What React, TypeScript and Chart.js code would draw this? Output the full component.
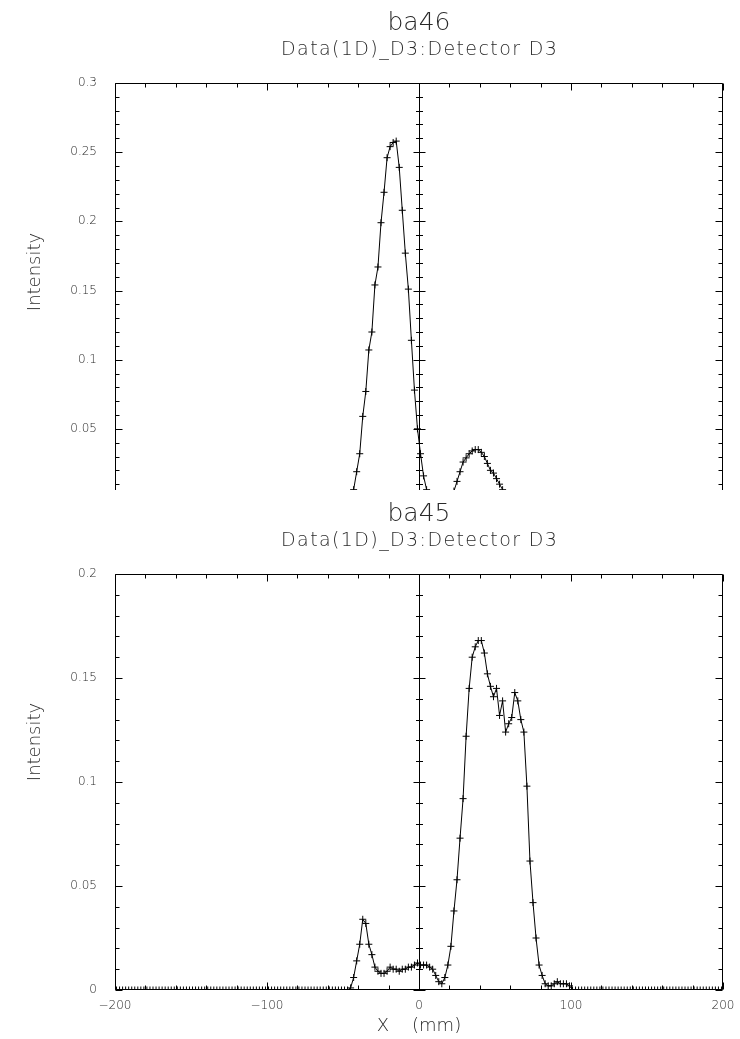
import { useEffect, useRef } from 'react';
import { Chart, registerables } from 'chart.js';

Chart.register(...registerables);

// ---------- data ----------
const xPositions = [
  -199, -197, -195, -193, -191, -189, -187, -185, -183, -181, -179, -177, -175, -173, -171, -169, -167, -165, -163, -161,
  -159, -157, -155, -153, -151, -149, -147, -145, -143, -141, -139, -137, -135, -133, -131, -129, -127, -125, -123, -121,
  -119, -117, -115, -113, -111, -109, -107, -105, -103, -101, -99, -97, -95, -93, -91, -89, -87, -85, -83, -81,
  -79, -77, -75, -73, -71, -69, -67, -65, -63, -61, -59, -57, -55, -53, -51, -49, -47, -45, -43, -41,
  -39, -37, -35, -33, -31, -29, -27, -25, -23, -21, -19, -17, -15, -13, -11, -9, -7, -5, -3, -1,
  1, 3, 5, 7, 9, 11, 13, 15, 17, 19, 21, 23, 25, 27, 29, 31, 33, 35, 37, 39,
  41, 43, 45, 47, 49, 51, 53, 55, 57, 59, 61, 63, 65, 67, 69, 71, 73, 75, 77, 79,
  81, 83, 85, 87, 89, 91, 93, 95, 97, 99, 101, 103, 105, 107, 109, 111, 113, 115, 117, 119,
  121, 123, 125, 127, 129, 131, 133, 135, 137, 139, 141, 143, 145, 147, 149, 151, 153, 155, 157, 159,
  161, 163, 165, 167, 169, 171, 173, 175, 177, 179, 181, 183, 185, 187, 189, 191, 193, 195, 197, 199,
];

// ba46 (upper panel)
const ba46Intensity = [
  0, 0, 0, 0, 0, 0, 0, 0, 0, 0, 0, 0, 0, 0, 0, 0, 0, 0, 0, 0,
  0, 0, 0, 0, 0, 0, 0, 0, 0, 0, 0, 0, 0, 0, 0, 0, 0, 0, 0, 0,
  0, 0, 0, 0, 0, 0, 0, 0, 0, 0, 0, 0, 0, 0, 0, 0, 0, 0, 0, 0,
  0, 0, 0, 0, 0, 0, 0, 0, 0, 0, 0, 0, 0, 0, 0, 0, 0, 0.001, 0.006, 0.019,
  0.032, 0.059, 0.077, 0.107, 0.12, 0.154, 0.167, 0.199, 0.221, 0.246, 0.254, 0.257, 0.258, 0.239, 0.208, 0.177, 0.151, 0.114, 0.078, 0.05,
  0.032, 0.016, 0.006, 0.002, 0.001, 0.001, 0.001, 0.001, 0.002, 0.002, 0.003, 0.005, 0.012, 0.019, 0.026, 0.029, 0.032, 0.034, 0.035, 0.035,
  0.033, 0.03, 0.025, 0.02, 0.018, 0.014, 0.01, 0.006, 0.003, 0.001, 0, 0, 0, 0, 0, 0, 0, 0, 0, 0,
  0, 0, 0, 0, 0, 0, 0, 0, 0, 0, 0, 0, 0, 0, 0, 0, 0, 0, 0, 0,
  0, 0, 0, 0, 0, 0, 0, 0, 0, 0, 0, 0, 0, 0, 0, 0, 0, 0, 0, 0,
  0, 0, 0, 0, 0, 0, 0, 0, 0, 0, 0, 0, 0, 0, 0, 0, 0, 0, 0, 0,
];

// ba45 (lower panel)
const ba45Intensity = [
  0, 0, 0, 0, 0, 0, 0, 0, 0, 0, 0, 0, 0, 0, 0, 0, 0, 0, 0, 0,
  0, 0, 0, 0, 0, 0, 0, 0, 0, 0, 0, 0, 0, 0, 0, 0, 0, 0, 0, 0,
  0, 0, 0, 0, 0, 0, 0, 0, 0, 0, 0, 0, 0, 0, 0, 0, 0, 0, 0, 0,
  0, 0, 0, 0, 0, 0, 0, 0, 0, 0, 0, 0, 0, 0, 0, 0, 0, 0.001, 0.006, 0.014,
  0.022, 0.034, 0.032, 0.022, 0.017, 0.011, 0.009, 0.008, 0.008, 0.009, 0.011, 0.01, 0.01, 0.009, 0.01, 0.01, 0.011, 0.011, 0.012, 0.013,
  0.012, 0.012, 0.012, 0.011, 0.01, 0.007, 0.004, 0.003, 0.006, 0.012, 0.021, 0.038, 0.053, 0.073, 0.092, 0.122, 0.145, 0.16, 0.165, 0.168,
  0.168, 0.162, 0.152, 0.146, 0.141, 0.145, 0.132, 0.139, 0.124, 0.128, 0.131, 0.143, 0.139, 0.13, 0.124, 0.098, 0.062, 0.042, 0.025, 0.012,
  0.007, 0.003, 0.002, 0.002, 0.003, 0.004, 0.003, 0.003, 0.003, 0.002, 0, 0, 0, 0, 0, 0, 0, 0, 0, 0,
  0, 0, 0, 0, 0, 0, 0, 0, 0, 0, 0, 0, 0, 0, 0, 0, 0, 0, 0, 0,
  0, 0, 0, 0, 0, 0, 0, 0, 0, 0, 0, 0, 0, 0, 0, 0, 0, 0, 0, 0,
];

const subtitleText = 'Data(1D)_D3:Detector D3';
const yAxisLabel = 'Intensity';
const xAxisLabel = 'X    (mm)';
const xLimits = [-200, 200];
const xMajorStep = 100;
const xMinorStep = 20;
const ba46YLimits = [0, 0.3];
const ba45YLimits = [0, 0.2];
const yMajorStep = 0.05;
const yMinorStep = 0.01;

// ---------- style ----------
const FONT = '"DejaVu Sans", "Liberation Sans", sans-serif';
const TEXT_COLOR = '#2a2a2a';
const LINE_COLOR = '#000';

const framePlugin = {
  id: 'frame',
  afterDatasetsDraw(chart: any) {
    const { ctx, chartArea: a, scales } = chart;
    const xs = scales.x;
    const ys = scales.y;
    const L = Math.round(a.left) + 0.5;
    const R = Math.round(a.right) - 0.5;
    const T = Math.round(a.top) + 0.5;
    const B = Math.round(a.bottom) - 0.5;
    ctx.save();
    ctx.strokeStyle = LINE_COLOR;
    ctx.lineWidth = 1;
    ctx.beginPath();
    ctx.rect(L, T, R - L, B - T);
    const x0 = Math.round(xs.getPixelForValue(0)) + 0.5;
    ctx.moveTo(x0, T);
    ctx.lineTo(x0, B);
    // x ticks (top & bottom, inward)
    for (let v = xs.min; v <= xs.max + 1e-9; v += xMinorStep) {
      const major = Math.abs(v / xMajorStep - Math.round(v / xMajorStep)) < 1e-6;
      const len = major ? 7 : 4;
      const px = Math.round(xs.getPixelForValue(v)) + 0.5;
      ctx.moveTo(px, T);
      ctx.lineTo(px, T + len);
      ctx.moveTo(px, B);
      ctx.lineTo(px, B - len);
    }
    // y ticks (left, right inward; centre line both sides)
    const n = Math.round((ys.max - ys.min) / yMinorStep);
    for (let i = 0; i <= n; i++) {
      const v = ys.min + i * yMinorStep;
      const major = Math.abs(v / yMajorStep - Math.round(v / yMajorStep)) < 1e-6;
      const len = major ? 7 : 4;
      const cl = major ? 6 : 3.5;
      const py = Math.round(ys.getPixelForValue(v)) + 0.5;
      ctx.moveTo(L, py);
      ctx.lineTo(L + len, py);
      ctx.moveTo(R, py);
      ctx.lineTo(R - len, py);
      ctx.moveTo(x0 - cl, py);
      ctx.lineTo(x0 + cl, py);
    }
    ctx.stroke();
    ctx.restore();
  },
};

const textPlugin = {
  id: 'panelText',
  afterDraw(chart: any, _args: any, o: any) {
    const { ctx, chartArea: a } = chart;
    const cx = (a.left + a.right) / 2;
    ctx.save();
    ctx.fillStyle = TEXT_COLOR;
    ctx.textAlign = 'center';
    ctx.textBaseline = 'alphabetic';
    ctx.font = `200 25px ${FONT}`;
    ctx.fillText(o.title, cx, a.top - 53);
    ctx.font = `200 19px ${FONT}`;
    try { (ctx as any).letterSpacing = '1.4px'; } catch (e) { /* ignore */ }
    ctx.fillText(o.subtitle, cx + 0.7, a.top - 28);
    try { (ctx as any).letterSpacing = '0px'; } catch (e) { /* ignore */ }
    ctx.save();
    ctx.translate(o.yLabelX, o.yLabelY);
    ctx.rotate(-Math.PI / 2);
    ctx.textBaseline = 'middle';
    ctx.font = `200 18px ${FONT}`;
    ctx.fillText(o.yLabel, 0, 0);
    ctx.restore();
    if (o.xLabel) {
      ctx.font = `200 18px ${FONT}`;
      ctx.fillText(o.xLabel, cx, o.xLabelY);
    }
    ctx.restore();
  },
};

const fmtY = (v: any) => String(Number(Number(v).toFixed(2)));
const fmtX = (v: any) => {
  const n = Math.round(Number(v));
  return n < 0 ? '\u2212' + Math.abs(n) : String(n);
};

type PanelProps = {
  height: number;
  values: number[];
  yLimits: number[];
  title: string;
  showXTicks: boolean;
  padTop: number;
  xAxisHeight: number;
  yLabelY: number;
  xLabel?: string;
  xLabelY?: number;
};

function Panel(p: PanelProps) {
  const ref = useRef<HTMLCanvasElement | null>(null);
  useEffect(() => {
    if (!ref.current) return;
    const data = xPositions.map((x, i) => ({ x, y: p.values[i] }));
    const chart = new Chart(ref.current, {
      type: 'line',
      data: {
        datasets: [
          {
            data,
            borderColor: LINE_COLOR,
            borderWidth: 1,
            pointStyle: 'cross',
            pointRadius: 3.5,
            pointBorderColor: LINE_COLOR,
            pointBorderWidth: 1,
            pointHoverRadius: 3.5,
            tension: 0,
            fill: false,
            clip: 0,
          } as any,
        ],
      },
      options: {
        animation: false,
        responsive: false,
        devicePixelRatio: 1,
        events: [],
        layout: { padding: { top: p.padTop, left: 0, right: 17, bottom: 0 } },
        plugins: {
          legend: { display: false },
          tooltip: { enabled: false },
          panelText: {
            title: p.title,
            subtitle: subtitleText,
            yLabel: yAxisLabel,
            yLabelX: 35,
            yLabelY: p.yLabelY,
            xLabel: p.xLabel,
            xLabelY: p.xLabelY,
          },
        } as any,
        scales: {
          x: {
            type: 'linear',
            min: xLimits[0],
            max: xLimits[1],
            grid: { display: false },
            border: { display: false },
            ticks: {
              display: p.showXTicks,
              stepSize: xMajorStep,
              padding: 1,
              color: TEXT_COLOR,
              font: { family: FONT, size: 12, weight: '200' as any },
              callback: fmtX,
              maxRotation: 0,
            },
            afterFit: (s: any) => {
              s.height = p.xAxisHeight;
            },
          },
          y: {
            type: 'linear',
            min: p.yLimits[0],
            max: p.yLimits[1],
            grid: { display: false },
            border: { display: false },
            ticks: {
              stepSize: yMajorStep,
              padding: 10,
              color: TEXT_COLOR,
              font: { family: FONT, size: 12, weight: '200' as any },
              callback: fmtY,
            },
            afterFit: (s: any) => {
              s.width = 115;
            },
          },
        },
      },
      plugins: [framePlugin, textPlugin],
    });
    return () => chart.destroy();
  }, []);
  return <canvas ref={ref} width={740} height={p.height} style={{ display: 'block' }} />;
}

export default function App() {
  return (
    <div style={{ position: 'absolute', left: 0, top: 0, width: 740, height: 1039, background: '#fff', overflow: 'hidden' }}>
      <div style={{ position: 'absolute', left: 0, top: 0, width: 740, height: 490, overflow: 'hidden' }}>
        <Panel
          height={540}
          values={ba46Intensity}
          yLimits={ba46YLimits}
          title="ba46"
          showXTicks={false}
          padTop={83}
          xAxisHeight={42}
          yLabelY={272}
        />
      </div>
      <div style={{ position: 'absolute', left: 0, top: 490, width: 740, height: 549 }}>
        <Panel
          height={549}
          values={ba45Intensity}
          yLimits={ba45YLimits}
          title="ba45"
          showXTicks={true}
          padTop={84}
          xAxisHeight={49}
          yLabelY={252}
          xLabel={xAxisLabel}
          xLabelY={541}
        />
      </div>
    </div>
  );
}
